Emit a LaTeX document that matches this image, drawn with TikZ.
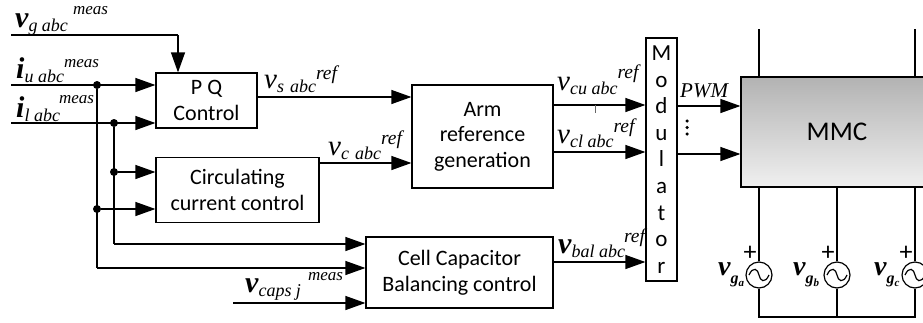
\documentclass[tikz,border=0pt]{standalone}
\usepackage{fontspec}
\setmainfont{Carlito}
\newfontfamily\sigfont{Liberation Serif}
\usetikzlibrary{arrows.meta,calc}
% #1 main letter, #2 subscript, #3 superscript, #4 kern before superscript, #5 raise of superscript
\newcommand{\sig}[5]{{\sigfont\itshape\fontsize{30}{30}\selectfont\bfseries #1}{\sigfont\itshape\fontsize{18}{19}\selectfont\raisebox{-4pt}{#2}\kern#4pt\raisebox{#5pt}{#3}}}
\newcommand{\sign}[5]{{\sigfont\itshape\fontsize{29}{29}\selectfont #1}{\sigfont\itshape\fontsize{18}{19}\selectfont\raisebox{-4pt}{#2}\kern#4pt\raisebox{#5pt}{#3}}}
\newcommand{\mz}{\fontsize{17}{17}\selectfont meas}
\newcommand{\rf}{\fontsize{19.5}{20}\selectfont ref}
\newcommand{\gsig}[2]{{\sigfont\itshape\bfseries\fontsize{28}{28}\selectfont v}{\sigfont\itshape\bfseries\fontsize{16}{16}\selectfont\raisebox{-8pt}{#1}\fontsize{11}{11}\selectfont\raisebox{-11pt}{#2}}}
\tikzset{
  blockbox/.style={draw=black,line width=1.2pt,fill=white,align=center,inner sep=0pt,font=\fontsize{22}{25.5}\selectfont},
  wire/.style={line width=1.2pt,draw=black},
  arrowwire/.style={wire,-{Triangle[length=20pt,width=14pt]}},
  junction/.style={circle,fill=black,inner sep=0pt,minimum size=8pt},
  vdot/.style={circle,fill=black,inner sep=0pt,minimum size=3.5pt},
  siglabel/.style={anchor=base west,inner sep=0pt},
  sourcec/.style={circle,draw=black,line width=1.2pt,fill=white,minimum size=26pt,inner sep=0pt},
  plusmark/.style={inner sep=0pt,font=\fontsize{26}{26}\selectfont},
  strayt/.style={line width=.5pt,draw=black!60}
}
\newcommand{\tildein}[1]{\draw[wire] ($(#1.center)+(-10,0)$) .. controls ($(#1.center)+(-6,-9)$) and ($(#1.center)+(-1,-6)$) .. (#1.center) .. controls ($(#1.center)+(1,6)$) and ($(#1.center)+(6,9)$) .. ($(#1.center)+(10,0)$);}
\begin{document}
\begin{tikzpicture}[x=1pt,y=-1pt]
\useasboundingbox (0,0) rectangle (923,322);
% blocks
\node[blockbox,minimum width=101pt,minimum height=55pt] (pq) at (206.5,100.5) {P Q\\Control};
\node[blockbox,minimum width=163pt,minimum height=65pt] (cc) at (237.5,190) {Circulating\\current control};
\node[blockbox,minimum width=141pt,minimum height=103pt] (arm) at (482.5,136.5) {Arm\\reference\\generation};
\node[blockbox,minimum width=187pt,minimum height=71pt] (cell) at (459.5,272.5) {Cell Capacitor\\Balancing control};
\node[blockbox,minimum width=31pt,minimum height=243pt,font=\fontsize{23}{26.6}\selectfont] (mod) at (661.5,159.5) {M\\o\\d\\u\\l\\a\\t\\o\\r};
\node[draw=black,line width=1.2pt,top color=black!30,bottom color=black!6,minimum width=190pt,minimum height=110pt,inner sep=0pt] (mmc) at (836,132) {};
\node[font=\fontsize{27}{27}\selectfont,inner sep=0pt] (mmctext) at (837,132) {MMC};
% free ends
\coordinate (vgs) at (11,35);
\coordinate (iu) at (11,85);
\coordinate (il) at (11,123);
\coordinate (vcs) at (233,303);
\coordinate (vgt) at (178,35);
% junctions
\node[junction] (j1) at (97,85) {};
\node[junction] (j2) at (114,123) {};
\node[junction] (j3) at (114,172) {};
\node[junction] (j4) at (97,209) {};
\coordinate (c1) at (114,244);
\coordinate (c2) at (97,268);
% input wires
\draw[wire] (vgs) -- (vgt);
\draw[arrowwire] (vgt) -- (vgt |- pq.north);
\draw[arrowwire] (iu) -- (iu -| pq.west);
\draw[arrowwire] (il) -- (il -| pq.west);
\draw[wire] (j1) -- (c2);
\draw[wire] (j2) -- (c1);
\draw[arrowwire] (j3) -- (j3 -| cc.west);
\draw[arrowwire] (j4) -- (j4 -| cc.west);
\draw[arrowwire] (c1) -- (c1 -| cell.west);
\draw[arrowwire] (c2) -- (c2 -| cell.west);
\draw[arrowwire] (vcs) -- (vcs -| cell.west);
% between blocks
\coordinate (pqo) at (257,97);
\coordinate (cco) at (319,163);
\draw[arrowwire] (pqo) -- (pqo -| arm.west);
\draw[arrowwire] (cco) -- (cco -| arm.west);
\coordinate (a1) at (553,105);
\coordinate (a2) at (553,152);
\coordinate (ce) at (553,262);
\draw[arrowwire] (a1) -- (a1 -| mod.west);
\draw[arrowwire] (a2) -- (a2 -| mod.west);
\draw[arrowwire] (ce) -- (ce -| mod.west);
\coordinate (m1) at (677,106);
\coordinate (m2) at (677,154);
\draw[arrowwire] (m1) -- (m1 -| mmc.west);
\draw[arrowwire] (m2) -- (m2 -| mmc.west);
\coordinate (tick) at (595,105);
\draw[strayt] (tick) -- ++(0,8);
% dots
\node[vdot] (d1) at (687,121) {};
\node[vdot] (d2) at (687,127.5) {};
\node[vdot] (d3) at (687,134) {};
% grid
\coordinate (ua) at (759,29);
\coordinate (uc) at (915,29);
\draw[wire] (ua) -- (ua |- mmc.north);
\draw[wire] (uc) -- (uc |- mmc.north);
\node[sourcec] (s1) at (759,275) {};
\node[sourcec] (s2) at (837,275) {};
\node[sourcec] (s3) at (915,275) {};
\draw[wire] (s1.north) -- (s1.north |- mmc.south);
\draw[wire] (s2.north) -- (s2.north |- mmc.south);
\draw[wire] (s3.north) -- (s3.north |- mmc.south);
\coordinate (b1) at (759,317);
\coordinate (b2) at (837,317);
\coordinate (b3) at (915,317);
\draw[wire] (s1.south) -- (b1) -- (b3) -- (s3.south);
\draw[wire] (s2.south) -- (b2);
\tildein{s1}\tildein{s2}\tildein{s3}
\node[plusmark] (p1) at (750,253) {+};
\node[plusmark] (p2) at (828,253) {+};
\node[plusmark] (p3) at (906,253) {+};
% labels
\node[siglabel] (l1) at (15,27) {\sig{v}{g abc}{\mz}{5}{13}};
\node[siglabel] (l2) at (16,78) {\sig{i}{u abc}{\mz}{0}{11}};
\node[siglabel] (l3) at (16,117) {\sig{i}{l abc}{\mz}{-1}{14}};
\node[siglabel] (l4) at (264,88) {\sign{v}{s\,\,abc}{\rf}{0}{9}};
\node[siglabel] (l5) at (328,155) {\sign{v}{c\,\,abc}{\rf}{0}{11}};
\node[siglabel] (l6) at (557,90) {\sign{v}{cu abc}{\rf}{0}{12}};
\node[siglabel] (l7) at (557,143) {\sign{v}{cl abc}{\rf}{0}{11}};
\node[siglabel] (l8) at (558,253) {\sig{v}{bal abc}{\rf}{-1}{11}};
\node[siglabel] (l9) at (245,292) {\sig{v}{caps j}{\mz}{7}{12}};
\node[siglabel,font=\sigfont\itshape\fontsize{21}{21}\selectfont] (l10) at (680,97) {PWM};
\node[siglabel] (g1) at (718,275) {\gsig{g}{a}};
\node[siglabel] (g2) at (793,275) {\gsig{g}{b}};
\node[siglabel] (g3) at (874,275) {\gsig{g}{c}};
\end{tikzpicture}
\end{document}
